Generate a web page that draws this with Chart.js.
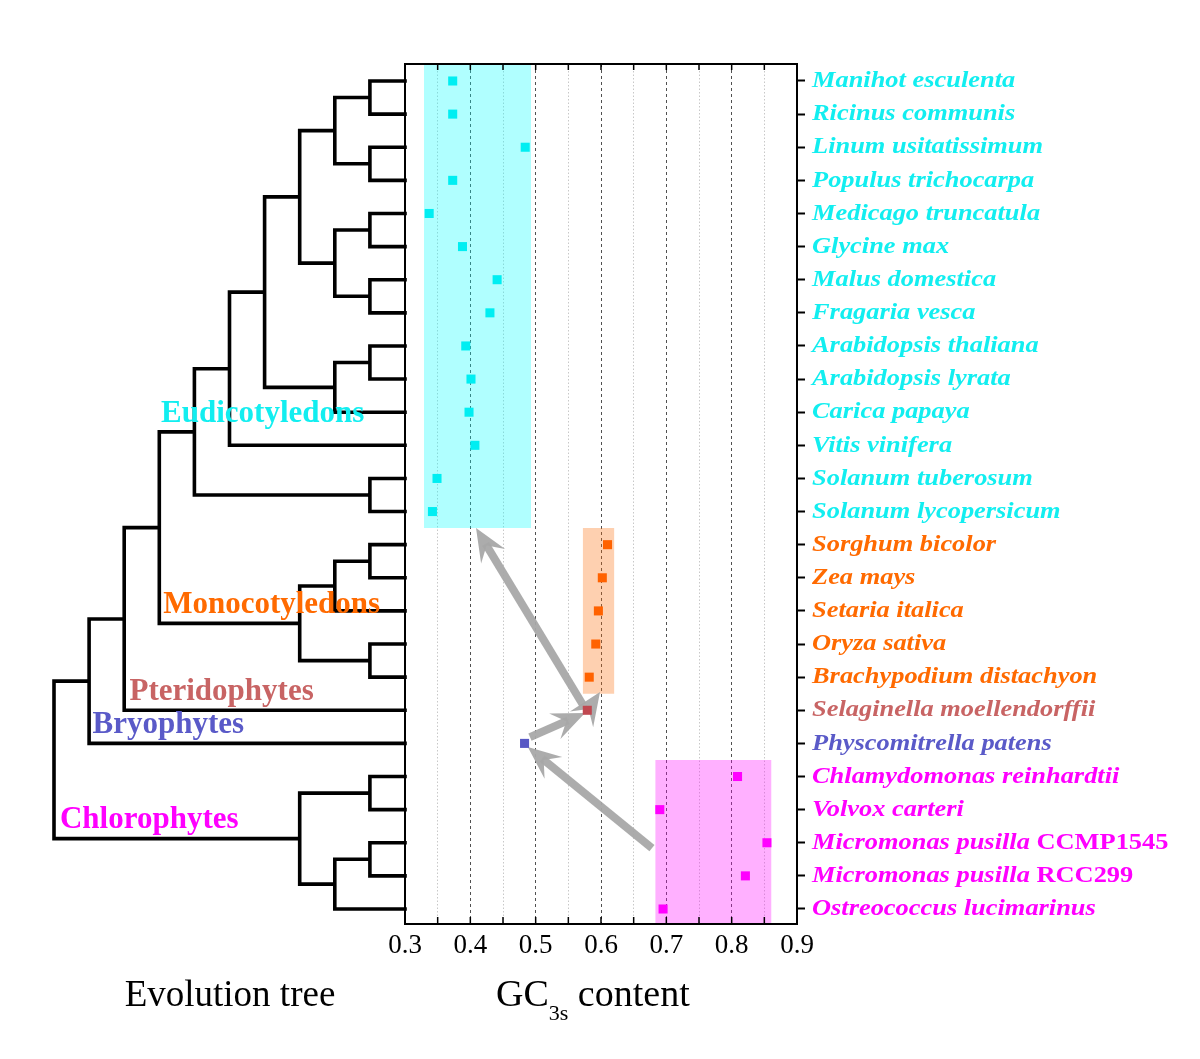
<!DOCTYPE html>
<html><head><meta charset="utf-8">
<script src="https://cdn.jsdelivr.net/npm/chart.js@4"></script>
<style>html,body{margin:0;padding:0;background:#fff}#wrap{width:1200px;height:1059px;position:relative}</style>
</head><body><div id="wrap"><canvas id="c" width="1200" height="1059"></canvas></div>
<script>
// ---------------- DATA ----------------
const species = [
  'Manihot esculenta','Ricinus communis','Linum usitatissimum','Populus trichocarpa',
  'Medicago truncatula','Glycine max','Malus domestica','Fragaria vesca',
  'Arabidopsis thaliana','Arabidopsis lyrata','Carica papaya','Vitis vinifera',
  'Solanum tuberosum','Solanum lycopersicum',
  'Sorghum bicolor','Zea mays','Setaria italica','Oryza sativa','Brachypodium distachyon',
  'Selaginella moellendorffii','Physcomitrella patens',
  'Chlamydomonas reinhardtii','Volvox carteri','Micromonas pusilla CCMP1545',
  'Micromonas pusilla RCC299','Ostreococcus lucimarinus'
];
const gcValues = [
  0.373,0.373,0.484,0.373,0.337,0.388,0.441,0.430,0.393,0.401,0.398,0.407,0.349,0.342,
  0.610,0.602,0.596,0.592,0.582,
  0.579,0.483,
  0.809,0.690,0.854,0.821,0.695
];
const speciesGroup = [
  'eu','eu','eu','eu','eu','eu','eu','eu','eu','eu','eu','eu','eu','eu',
  'mono','mono','mono','mono','mono','pter','bryo',
  'chloro','chloro','chloro','chloro','chloro'
];
const cladeNames = ['Eudicotyledons','Monocotyledons','Pteridophytes','Bryophytes','Chlorophytes'];
const cladeGroups = ['eu','mono','pter','bryo','chloro'];
const xTickValues = [0.3,0.4,0.5,0.6,0.7,0.8,0.9];
const xMinorValues = [0.35,0.45,0.55,0.65,0.75,0.85];
// shaded ranges (GC3s range of each clade, rows spanned)
const boxGroups   = ['eu','mono','chloro'];
const boxGcMin    = [0.329,0.572,0.683];
const boxGcMax    = [0.493,0.6205,0.861];
const boxRowFirst = [-0.6,13.5,20.5];
const boxRowLast  = [13.5,18.5,25.6];
// evolution tree: [nodeDepth, childA, childB]; numbers = leaf row index
const leafDepth = 10;
const tree = [0,
  [1,
    [2,
      [3,
        [4,
          [5,
            [6,
              [7, [8,[9,0,1],[9,2,3]], [8,[9,4,5],[9,6,7]]],
              [8, [9,8,9], 10]
            ],
            11
          ],
          [9,12,13]
        ],
        [7, [8,[9,14,15],16], [9,17,18]]
      ],
      19
    ],
    20
  ],
  [7, [9,21,22], [8,[9,23,24],25]]
];
// arrows (GC3s, row)
const arrowFromGc  = [0.5725,0.4913,0.5790,0.6780];
const arrowFromRow = [18.84,19.81,19.02,23.16];
const arrowToGc    = [0.4087,0.5755,0.5985,0.4880];
const arrowToRow   = [13.50,19.08,18.45,20.11];

// ---------------- STYLE ----------------
const groupColor = {eu:'#12eef0', mono:'#ff6a00', pter:'#c86464', bryo:'#5a5ac8', chloro:'#ff00ff'};
const pointColor = {eu:'#00eef2', mono:'#ff6200', pter:'#c04850', bryo:'#5858c4', chloro:'#ff00ff'};
const boxFill = {eu:'rgba(0,255,255,0.31)', mono:'rgba(252,110,10,0.32)', chloro:'rgba(255,0,255,0.31)'};
const cladeAnchor = { // tree depth, row (baseline)
  eu:[3.05,10.3], mono:[3.11,16.05], pter:[2.15,18.7], bryo:[1.1,19.68], chloro:[0.17,22.55]
};
const SERIF = '"Liberation Serif","Times New Roman",serif';
const AREA = {left:405, right:797, top:64, bottom:924};
const levelPx = 35.1;

// ---------------- BUILD ----------------
const treePts = [];
function layoutTree(node){
  if (typeof node === 'number') return {x:leafDepth, y:node};
  const d = node[0], a = layoutTree(node[1]), b = layoutTree(node[2]);
  treePts.push({x:a.x,y:a.y},{x:d,y:a.y},{x:d,y:b.y},{x:b.x,y:b.y},{x:null,y:null});
  return {x:d, y:(a.y+b.y)/2};
}
layoutTree(tree);

const datasets = [];
boxGroups.forEach((g,i)=>{
  datasets.push({type:'line', label:'box-'+g, order:5,
    data:[{x:boxGcMin[i],y:boxRowFirst[i]},{x:boxGcMax[i],y:boxRowFirst[i]}],
    borderWidth:0, pointRadius:0, fill:'+1', backgroundColor:boxFill[g], borderColor:'rgba(0,0,0,0)'});
  datasets.push({type:'line', label:'boxb-'+g, order:5,
    data:[{x:boxGcMin[i],y:boxRowLast[i]},{x:boxGcMax[i],y:boxRowLast[i]}],
    borderWidth:0, pointRadius:0, fill:false, borderColor:'rgba(0,0,0,0)'});
});
datasets.push({type:'line', label:'tree', order:2, xAxisID:'xt', data:treePts,
  borderColor:'#000', borderWidth:3.6, pointRadius:0, fill:false, spanGaps:false,
  borderJoinStyle:'miter', borderCapStyle:'square', clip:false, tension:0});
datasets.push({type:'line', label:'GC3s', order:0, showLine:false,
  data: gcValues.map((v,i)=>({x:v,y:i})),
  pointStyle:'rect', pointRadius:6.4, pointBorderWidth:0,
  pointBackgroundColor: speciesGroup.map(g=>pointColor[g]), clip:false});

function drawArrow(ctx,x0,y0,x1,y1){
  const headLen=33, half=14, shaft=8;
  const dx=x1-x0, dy=y1-y0, L=Math.hypot(dx,dy), ux=dx/L, uy=dy/L, px=-uy, py=ux;
  const bx=x1-ux*headLen, by=y1-uy*headLen;
  const nx=x1-ux*headLen*0.62, ny=y1-uy*headLen*0.62;
  ctx.save();
  ctx.fillStyle='rgba(168,168,168,0.95)'; ctx.strokeStyle='rgba(168,168,168,0.95)';
  if (L > headLen*0.62){
    ctx.lineWidth=shaft; ctx.lineCap='butt';
    ctx.beginPath(); ctx.moveTo(x0,y0); ctx.lineTo(nx+ux*2,ny+uy*2); ctx.stroke();
  }
  ctx.beginPath(); ctx.moveTo(x1,y1);
  ctx.lineTo(bx+px*half,by+py*half); ctx.lineTo(nx,ny); ctx.lineTo(bx-px*half,by-py*half);
  ctx.closePath(); ctx.fill();
  ctx.restore();
}

const deco = {
  id:'deco',
  afterDatasetDraw(chart,args){
    if (chart.data.datasets[args.index].label !== 'tree') return;
    const ctx=chart.ctx, xs=chart.scales.x, ys=chart.scales.y;
    for (let i=0;i<arrowFromGc.length;i++){
      drawArrow(ctx, xs.getPixelForValue(arrowFromGc[i]), ys.getPixelForValue(arrowFromRow[i]),
                     xs.getPixelForValue(arrowToGc[i]), ys.getPixelForValue(arrowToRow[i]));
    }
  },
  afterDraw(chart){
    const ctx=chart.ctx, a=chart.chartArea, xs=chart.scales.x, ys=chart.scales.y, xt=chart.scales.xt;
    ctx.save();
    // frame
    ctx.strokeStyle='#000'; ctx.lineWidth=2;
    ctx.strokeRect(a.left, a.top, a.right-a.left, a.bottom-a.top);
    // inward ticks on top and bottom
    ctx.lineWidth=1.5;
    xTickValues.concat(xMinorValues).forEach(v=>{
      const px=xs.getPixelForValue(v);
      ctx.beginPath(); ctx.moveTo(px,a.bottom); ctx.lineTo(px,a.bottom-7); ctx.stroke();
      ctx.beginPath(); ctx.moveTo(px,a.top); ctx.lineTo(px,a.top+6); ctx.stroke();
    });
    // species labels (slightly wide serif)
    ctx.textBaseline='middle'; ctx.textAlign='left';
    const sx = 1.1;
    species.forEach((name,i)=>{
      const y=ys.getPixelForValue(i); const x0=a.right+15;
      ctx.save(); ctx.translate(x0,y); ctx.scale(sx,1);
      ctx.fillStyle=groupColor[speciesGroup[i]];
      const m=name.match(/^(.*)\s([A-Z]+[0-9]+)$/);
      const ital = m ? m[1] : name;
      ctx.font='italic bold 24px '+SERIF;
      ctx.fillText(ital,0,0);
      if (m){
        const w=ctx.measureText(ital+' ').width;
        ctx.font='bold 24px '+SERIF;
        ctx.fillText(m[2],w,0);
      }
      ctx.restore();
    });
    // clade labels on tree
    ctx.textBaseline='alphabetic';
    ctx.font='bold 31px '+SERIF;
    cladeGroups.forEach((g,i)=>{
      ctx.fillStyle=groupColor[g];
      ctx.fillText(cladeNames[i], xt.getPixelForValue(cladeAnchor[g][0]), ys.getPixelForValue(cladeAnchor[g][1]));
    });
    // titles
    ctx.fillStyle='#000';
    ctx.font='37px '+SERIF; ctx.textAlign='center';
    ctx.fillText('Evolution tree', 230, 1006);
    ctx.textAlign='left';
    let x=496;
    ctx.font='38px '+SERIF;
    ctx.fillText('GC', x, 1006); x+=ctx.measureText('GC').width;
    ctx.font='22px '+SERIF; ctx.fillText('3s', x, 1020); x+=ctx.measureText('3s').width;
    ctx.font='38px '+SERIF; ctx.fillText(' content', x, 1006);
    ctx.restore();
  }
};

new Chart(document.getElementById('c'), {
  type:'line',
  data:{datasets},
  options:{
    responsive:false, animation:false, events:[],
    layout:{padding:{left:AREA.left, top:AREA.top, right:1200-AREA.right-10, bottom:1059-AREA.bottom-40}},
    plugins:{legend:{display:false}, tooltip:{enabled:false}, filler:{propagate:false}},
    scales:{
      x:{type:'linear', position:'bottom', min:0.3, max:0.9,
        afterBuildTicks:s=>{ s.ticks = xTickValues.map(v=>({value:v})); },
        afterFit:s=>{ s.height=40; },
        ticks:{autoSkip:false, maxRotation:0, padding:6, color:'#000',
          font:{family:SERIF, size:27}, callback:v=>Number(v).toFixed(1)},
        grid:{color:'#505050', lineWidth:1, drawTicks:false},
        border:{display:false, dash:[3,3]}
      },
      x2:{type:'linear', position:'top', min:0.3, max:0.9,
        afterBuildTicks:s=>{ s.ticks = xMinorValues.map(v=>({value:v})); },
        afterFit:s=>{ s.height=0; },
        ticks:{display:false},
        grid:{color:'#c8c8c8', lineWidth:1, drawTicks:false},
        border:{display:false, dash:[1.5,2]}
      },
      xt:{type:'linear', display:false, min:leafDepth, max:leafDepth+(AREA.right-AREA.left)/levelPx},
      y:{type:'linear', position:'right', reverse:true, min:-0.513, max:25.453,
        afterBuildTicks:s=>{ s.ticks = species.map((_,i)=>({value:i})); },
        afterFit:s=>{ s.width=10; },
        ticks:{autoSkip:false, callback:()=>'', padding:0},
        grid:{drawOnChartArea:false, drawTicks:true, tickLength:8, tickWidth:2, tickColor:'#000'},
        border:{display:false}
      }
    }
  },
  plugins:[deco]
});
</script>
</body></html>
